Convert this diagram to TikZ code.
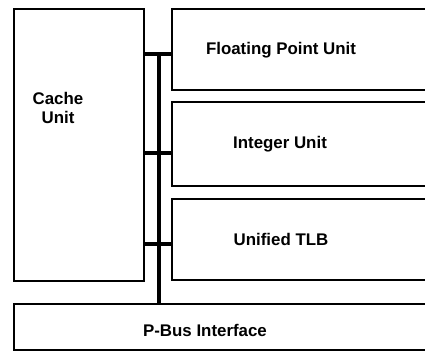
\documentclass[tikz,border=0pt]{standalone}
\usepackage{fontspec}
\setmainfont{Liberation Sans}
\usetikzlibrary{positioning,calc}
\tikzset{
  ubox/.style={draw,line width=2pt,inner sep=0pt},
  ulabel/.style={font=\fontsize{12}{14}\selectfont\bfseries,align=center,inner sep=0pt},
  bus/.style={line width=2.2pt},
}

\begin{document}
\begin{tikzpicture}[x=0.025cm,y=-0.025cm]
  \useasboundingbox (0,0) rectangle (425,352);
  \clip (0,0) rectangle (425,352);

  % unit blocks (right ones run past the edge)
  \node[ubox, minimum width=3.25cm, minimum height=6.8cm] (cache) at (79,145) {};
  \node[ubox, minimum width=6.7cm, minimum height=2.025cm] (fpu) at (306,49.5) {};
  \node[ubox, minimum width=6.7cm, minimum height=2.1cm] (intu) at (306,144) {};
  \node[ubox, minimum width=6.7cm, minimum height=2.025cm] (tlb) at (306,239.5) {};
  \node[ubox, minimum width=11.5cm, minimum height=1.15cm] (pbus) at (244,327) {};

  \node[ulabel] (cachet) at (58,108) {Cache\\Unit};
  \node[ulabel] (fput) at (281,50) {Floating Point Unit};
  \node[ulabel] (intut) at (280,144) {Integer Unit};
  \node[ulabel] (tlbt) at (281,239) {Unified TLB};
  \node[ulabel] (pbust) at (205,330) {P-Bus Interface};

  % internal bus
  \coordinate (b1) at (159,54);
  \coordinate (b2) at (159,153);
  \coordinate (b3) at (159,244);
  \draw[bus] (cache.east |- b1) -- (fpu.west |- b1);
  \draw[bus] (cache.east |- b2) -- (intu.west |- b2);
  \draw[bus] (cache.east |- b3) -- (tlb.west |- b3);
  \draw[bus] (b1) -- (b1 |- pbus.north);
\end{tikzpicture}
\end{document}
